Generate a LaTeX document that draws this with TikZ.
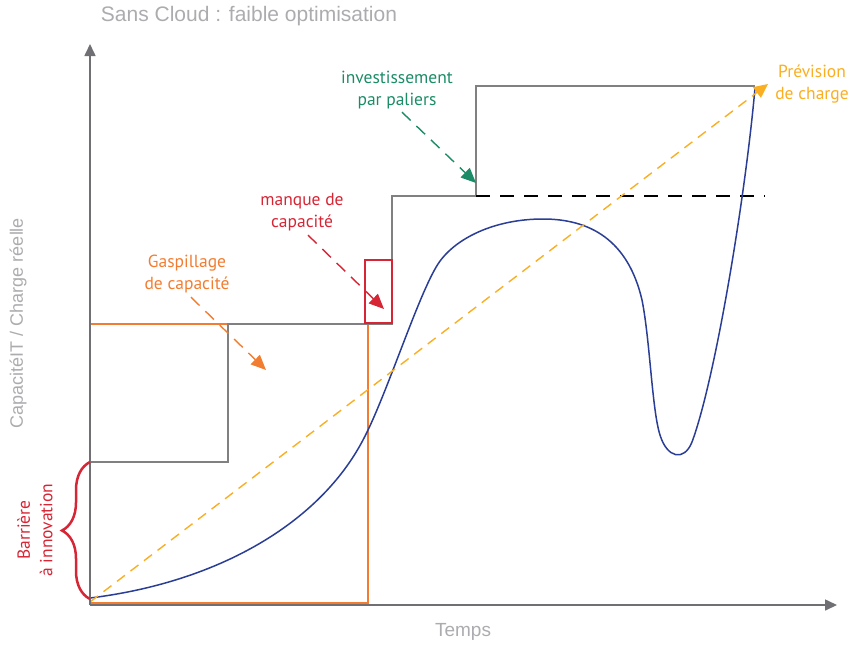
\documentclass[tikz,border=0pt]{standalone}
\usepackage{fontspec}
\setmainfont{PT Sans}
\setsansfont{Liberation Sans}
\usetikzlibrary{arrows.meta,decorations.pathreplacing}
\definecolor{axisgray}{RGB}{112,112,116}
\definecolor{stepgray}{RGB}{128,128,128}
\definecolor{labelgray}{RGB}{172,172,176}
\definecolor{invgreen}{RGB}{28,140,104}
\definecolor{lackred}{RGB}{214,37,52}
\definecolor{wasteorange}{RGB}{242,125,48}
\definecolor{forecastyellow}{RGB}{250,174,34}
\definecolor{loadblue}{RGB}{42,62,150}
\begin{document}
\begin{tikzpicture}[x=1pt,y=-1pt,
  every node/.style={inner sep=0pt, outer sep=0pt, align=center, font=\fontsize{17.5}{22.5}\selectfont},
  axisline/.style={draw=axisgray, line width=1.6pt, -{Triangle[length=12pt,width=11pt]}},
  greylabel/.style={text=labelgray, font=\sffamily\fontsize{#1}{#1}\selectfont},
  callout/.style={draw=#1, line width=1.4pt, dash pattern=on 12pt off 8pt, -{Triangle[length=15pt,width=13pt]}}]
\useasboundingbox (0,0) rectangle (853,645);
% waste area and steps
\draw[wasteorange, line width=1.4pt] (90,324) rectangle (368,603);
\draw[stepgray, line width=1.6pt] (90,605) -- (90,462) -- (228,462) -- (228,324) -- (392,324) -- (392,196) -- (476,196) -- (476,86) -- (755,86);
\draw[lackred, line width=1.4pt] (365,260) rectangle (392,323);
\draw[black, line width=1.6pt, dash pattern=on 14pt off 10pt] (476,196) -- (765,196);
% real load
\draw[loadblue, line width=1.5pt] (90,598) .. controls (220,582) and (320,522) .. (363,440)
  .. controls (386,397) and (418,295) .. (438,264)
  .. controls (455,238) and (495,219) .. (543,219)
  .. controls (590,219) and (628,240) .. (642,300)
  .. controls (650,340) and (652,410) .. (660,435)
  .. controls (667,458) and (684,462) .. (692,442)
  .. controls (715,380) and (745,200) .. (755,88);
% forecast
\coordinate (fstart) at (90,602);
\coordinate (fend) at (768,84);
\draw[forecastyellow, line width=1.4pt, dash pattern=on 10pt off 7pt, -{Triangle[length=14pt,width=13pt]}] (fstart) -- (fend);
% axes
\coordinate (origin) at (90,605);
\coordinate (xend) at (837,605);
\coordinate (yend) at (90,44);
\draw[axisline] (origin) -- (xend);
\draw[axisline] (origin) -- (yend);
% labels
\node[greylabel=21] (title) at (249,16) {Sans Cloud : faible optimisation};
\node[greylabel=19] (temps) at (463,632) {Temps};
\node[greylabel=18, rotate=90] (ylabel) at (18,323) {CapacitéIT / Charge réelle};
\node[text=invgreen] (invest) at (397,90) {investissement\\par paliers};
\node[text=lackred] (lack) at (302,212) {manque de\\capacité};
\node[text=wasteorange] (waste) at (187,274) {Gaspillage\\de capacité};
\node[text=forecastyellow] (forecast) at (812,84) {Prévision\\de charge};
\node[text=lackred, rotate=90] (barrier) at (35,530) {Barrière\\à innovation};
% callouts
\coordinate (investtip) at (476,183);
\coordinate (lacktip) at (384,309);
\coordinate (wastetip) at (266,370);
\draw[callout=invgreen] ([xshift=5pt,yshift=-3pt]invest.south) -- (investtip);
\draw[callout=lackred] ([xshift=6pt,yshift=-4pt]lack.south) -- (lacktip);
\draw[callout=wasteorange] ([xshift=4pt,yshift=-4pt]waste.south) -- (wastetip);
% brace
\coordinate (bracelow) at (90,599);
\coordinate (bracehigh) at (90,462);
\draw[lackred, line width=2.5pt, decorate, decoration={brace, amplitude=28pt, aspect=0.5}] (bracelow) -- (bracehigh);
\end{tikzpicture}
\end{document}
